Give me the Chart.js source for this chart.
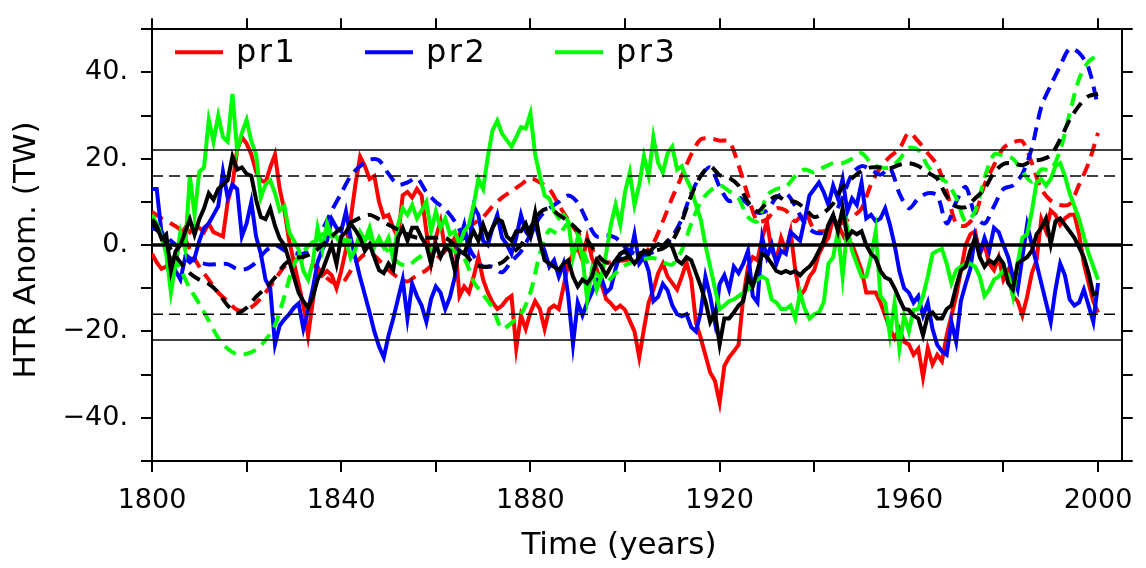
<!DOCTYPE html>
<html>
<head>
<meta charset="utf-8">
<script src="https://cdn.jsdelivr.net/npm/chart.js@4"></script>
<style>
  html, body { margin: 0; padding: 0; background: #fff; }
  canvas { display: block; }
</style>
</head>
<body>
<canvas id="htr" width="1146" height="568"></canvas>
<script>
// annual HTR anomalies (TW), one value per year from 1800 to 2000
var pr1 = [-2, -4, -5.5, -5, -3, -4, 2, 4, 3, 4.5,
  4, 3, 5, 3, 2.5, 2, 10, 14, 22, 25,
  23.5, 21, 17, 15, 14.5, 18, 21, 13, 8, 1,
  -4, -9, -14, -21, -13, -5, -7, -6, -7, -10,
  -6, -1, 6, 14, 20.5, 18.3, 15.3, 16, 10, 6.5,
  7, 4, 1.7, 11.5, 12.3, 11, 13, 11.5, 3.2, -4.3,
  1.7, 5.5, -1.3, 0, 1.7, -11.8, -9.6, -11, -7.3, -2.8,
  -8, -11, -13.3, -14.8, -14, -12.6, -11.8, -23.9, -16.3, -19.4,
  -15.6, -13, -14.8, -19.4, -14.8, -14, -14.8, -9.6, -4.3, -2,
  -0.5, -3.5, 1.7, -3, -5.5, -9, -12.5, -13.5, -14.8, -14,
  -15, -17.5, -20, -26, -19.4, -13.3, -10.3, -6.5, -4.3, -7.3,
  -8.8, -10.3, -7.3, -4, -8, -18, -21.5, -25.5, -29.5, -31.4,
  -36.5, -28, -26, -24.6, -23.1, -12, -5, -2.8, -3.5, 1.7,
  5.5, -1.3, -3.5, 1.7, -1.3, 3.2, -5.8, -11.8, -10.3, -7.3,
  -5.8, -2, 0.2, 1.7, 6.2, 5, 2.5, 0.5, 0.2, -2.8,
  -5.8, -11, -11, -11, -13.3, -16.3, -19.4, -21.6, -19.4, -22.4,
  -23, -25.4, -24, -30.6, -23.9, -27.6, -25.4, -26.9, -20.9, -16.3,
  -11.8, -6, 0, 2.5, 3.2, -2, 0.2, -4.3, -5.8, -2.8,
  -8, -5.8, -11.8, -13, -16.3, -12, -6.5, -3.5, 6, 3.2,
  8, 7, 4.7, 6.2, 7, 7, 2.5, -4.3, -8.8, -13,
  -15.6];

var pr2 = [13, 13, 3, -1, -4, -6, -8, -3, -4, -3,
  1, 4, 5, 7, 9, 17, 11, 14, 13, 2,
  5, 10, 2, -2, -8, -10, -23, -18.6, -17.2, -16,
  -14.5, -13.5, -19.4, -15, -10, -4, -1, 1, 6, 4,
  3.2, 7.8, 1.7, -3, -7.5, -11.5, -15.6, -20, -23.5, -26,
  -21, -17, -12.5, -8, -17, -9, -11.8, -14, -17.8, -12.5,
  -9.6, -11, -14.8, -12, -7.5, 1, 4.7, -1.3, 9, 7,
  1, 0, 4, 7, 1.7, 0.2, -2, 1.7, 7, 3.2,
  1.7, 5, 1, -1.3, -5, -3.5, -7.3, -4.3, -11.8, -23,
  -13.3, -16.3, -13.3, -11, -8, -7.5, -11, -10, -5.5, -2,
  -1.5, -2.8, 2.5, -4.3, -2.8, -6, -13, -12, -9, -10.5,
  -14, -16, -16.5, -16, -19, -20, -15.6, -7.3, -11.8, -17.8,
  -9, -7, -10.3, -5, -6.5, -4.3, -1.3, -11.8, -13.3, 1.7,
  -2.8, 0.2, -4.3, -1.3, -2, 3, 2, 1, 6, 11.5,
  13, 14.5, 12.3, 9.3, 13.8, 10.8, 15.3, 7.8, 10.8, 9.3,
  14.5, 6.2, 7, 5.5, 6.2, 8.5, 4.7, 0, -6, -10,
  -11, -13.3, -11.8, -16.3, -13.3, -19.4, -23.1, -24.6, -25.4, -17.8,
  -22.4, -13, -9, -5.5, 2, -2, 1.7, -1.3, 4, 3,
  0, -2.8, -7.3, -10.3, -2.8, 4.7, 0.2, -4.3, -8.8, -13.3,
  -17.8, -10.3, -4.3, -7, -12.6, -14, -13.3, -10.3, -14, -17.8,
  -8.8];

var pr3 = [7, 5, 2, -2, -11, -4, 3, -1, 16, 7,
  17, 18, 29, 24, 30, 25, 24, 35, 22, 26,
  29, 24, 21, 11, 14, 15, 12, 8, 9, 3,
  1, -1, -6, -8, -4, 4, -1, 5, 2, 2,
  0, 1, -3, -1, 3, 1, 4, -0.5, 1.7, -0.5,
  1.7, -3.5, 4.7, 8.5, 7, 9.3, 6.2, 8, 10, 3.2,
  7.8, 4, 6.2, 2.5, 3.2, 0.2, 3.2, 4.7, 9.3, 15.3,
  13, 20.5, 26.6, 28.8, 25.8, 24.3, 22.8, 25, 27.3, 27,
  30.5, 21, 16, 11.5, 10.8, 7.8, 6.2, 7, 5.5, -2.8,
  1.7, -2.8, -12.6, -5.8, -10.3, -7.3, -2, 4.7, 9.3, 4.7,
  12.3, 16.8, 9.3, 14, 20.6, 16, 25, 19, 16.8, 21.3,
  22.8, 17.5, 18.3, 15.3, 13, 9.3, 6, 0, -5, -10,
  -14.8, -14, -13, -12.6, -11.8, -11, -10.3, -8.8, -8, -7.3,
  -8, -12.6, -13.3, -14.8, -14.8, -14, -17, -11, -14.8, -17,
  -16, -15.6, -13.3, -4.3, -2.8, 3.2, -7.3, 4, -1.3, -4.3,
  -7.3, -7.3, -2.8, 3.2, -11.8, -13.3, -20.9, -13.3, -23.9, -16.3,
  -20, -15, -14.8, -11.8, -7.3, -2, -1.3, -0.9, -4.3, -8.8,
  -5.8, -5, -4.3, -4.3, -5, -7.3, -11.8, -10.3, -8, -7.3,
  -5.8, -7, -11.8, -4.3, 1.7, 2.5, 7.8, 14.5, 15.3, 13.8,
  15.3, 18.3, 19, 16, 12, 9, 6, 2, -2, -5,
  -8];

var prMean = [6, 4.5, 1.5, 2.5, -6, -1.4, 0, 3, 6, 2.4,
  6, 8.5, 12, 10.5, 13, 14, 15, 20.5, 17.5, 18,
  16.5, 16, 10.5, 6.5, 6, 8.5, 4.5, 1.5, 0, -3.6,
  -7.4, -11, -13, -14.5, -12, -8, -6, -3, 0, -4.4,
  2, 3, 5, 3.5, 1.7, -1.3, 0.2, -2.8, -5.8, -6.5,
  -4.3, -5.8, 1.7, 4, 1, 4, 4, 1.7, 0, -4.3,
  0.2, -2.8, -0.5, -1.3, -5.8, -1.3, -2, 1, 3.2, 1,
  4.7, 1.7, 4, 6, 5.5, 2, 1, 3.2, 3.2, 5,
  2, 7.5, 1, -3.5, -4.3, -5, -5.8, -4.3, -3.5, -7.3,
  -9.6, -8, -8.8, -7.3, -3.5, -5, -7, -5, -3.5, -2,
  -1.3, -2.8, -4.3, -2.8, -1.3, -2, -0.5, 0.2, -0.2, 1,
  -0.5, -3.5, -4.3, -2.8, -3.5, -6.5, -9.5, -13, -17.8, -15.5,
  -23, -17, -17, -15.6, -14, -13, -7.3, -9.6, -5.8, -2,
  -2.8, -4.3, -6, -6.5, -6, -6.5, -6, -7, -5.8, -5,
  -3.5, -1.3, 1, 4.7, 7, 3.2, 8.5, 1.7, 3.2, 2.5,
  3.2, 0, -2, -3, -6, -7.5, -8, -10, -12.5, -14.8,
  -15, -16.3, -17, -20.9, -16.3, -15.6, -17, -17, -14.8, -14,
  -9.6, -5.8, -5, -1.3, 1.7, -2.8, -5, -3.5, -4.3, -2.8,
  -4.3, -8.8, -10.3, -4.3, -3.5, -2.8, -1.3, 2.5, 4, 6.2,
  0.2, 5.5, 6.2, 4.7, 3.2, 1.7, -0.5, -2.8, -6.5, -11.4,
  -11];

// low-pass filtered curves, read every second year from 1800 to 2000
var pr1Smooth = [7.7, 6.2, 5, 3.5, -1, -5, -8, -11, -13, -15,
  -15, -13.5, -11, -8, -5, -3.5, -3, -4.5, -6.5, -8.5,
  -9, -6, -3, -1.7, -3.5, -5.8, -7.5, -8.4, -7, -5.8,
  -3.5, -1, 1.5, 3.5, 5, 6.5, 9, 11, 12.5, 14,
  15.5, 14.5, 13, 9.3, 5.8, 2.8, 0.5, -2.3, -4, -3.7,
  -3.5, -3, -2, 0.5, 5.5, 11, 16, 21, 24.5, 24.7,
  24.2, 24, 18.5, 11.5, 5.5, 6, 8.5, 8, 5.5, 7.8,
  3.5, 3.2, 3.8, 5.2, 6.5, 8.5, 14, 18, 20.5, 22.3,
  26, 24, 21.3, 18.5, 12.5, 5, 4.5, 7, 14, 18.5,
  22.5, 23.8, 24, 19, 13, 10.3, 9.3, 9.5, 14, 19,
  26];

var pr2Smooth = [4, 3, 1, -1, -3, -4, -4.5, -4.4, -4.4, -5.5,
  -5.5, -4, -1.4, 0, -1.2, -1.8, -2, 0, 3.5, 8,
  12, 16, 18.3, 19.8, 19.6, 16.5, 14, 14.5, 15.5, 12.3,
  10, 8.3, 5.5, 1.5, -2.5, -5, -5, -6.3, -3.7, -1.5,
  2.5, 6.5, 8.5, 10, 11.5, 9.8, 5.5, 2, 2.3, 1.7,
  -0.5, -2, -2.7, -1.5, -0.5, 2, 6, 12, 16, 18,
  13.5, 10.2, 11, 9.5, 7.5, 8, 11, 12, 9, 5,
  3, 3, 6.5, 11, 16.5, 18.3, 17.5, 16.3, 17.8, 12,
  8.5, 10.8, 12, 11.5, 5, 10, 13.5, 7, 5, 9,
  13, 13.8, 16.5, 22.5, 32, 37, 41.5, 45.5, 44.5, 41,
  32];

var pr3Smooth = [6, 3, -1, -5.5, -10, -13.6, -17.5, -21.5, -24, -25.3,
  -25.2, -24.2, -22, -18.5, -11.8, -4.5, -1.5, 0.7, 2.5, 2.5,
  1.5, 1, 1, 1.7, 0.5, -1.5, -4, -4.8, -3.2, -1.8,
  -0.5, 0, -1.5, -3, -8.5, -11.5, -14.5, -19.4, -18, -16,
  -11, -2, 3.5, 2.5, 5, 2.5, -3.8, -6.7, -8.5, -6.5,
  -4.7, -3.8, -3.2, -3, -4, -4.5, -1.2, 5, 10, 12.6,
  13.8, 12.5, 10.8, 6.5, 5.5, 11.5, 13, 13.5, 16, 17.5,
  16.8, 18, 19, 19, 20, 21.3, 19, 18, 18, 19.8,
  22.5, 22, 18.3, 16, 14.5, 11, 5.5, 7.8, 15.5, 21,
  20.7, 20, 17, 14.7, 17.5, 17.5, 22, 30.5, 38.5, 42.5,
  44];

var meanSmooth = [5.4, 2, -1, -4, -6.5, -8, -9, -11, -14, -15.7,
  -14.5, -12, -10, -7.5, -4.5, -3, -2.7, -1.8, 0, 2,
  4, 5.2, 6.3, 7, 6, 4.7, 3.6, 2.5, 1.7, 1.7,
  1.7, 1.7, 0, -1.8, -4.3, -5, -4.8, -4, -2, 0,
  4, 7.5, 8.5, 7, 5.5, 3.5, 1.2, -2, -4, -3.7,
  -3, -2.4, -1.6, -1.3, -0.8, 1, 5.5, 11.5, 16, 18.2,
  16.2, 15.6, 13.8, 10, 7.8, 9.8, 11.3, 10.3, 10, 8.5,
  6.5, 7.5, 9.6, 13.5, 15.5, 17.2, 18, 18, 17.8, 18.6,
  19, 18.3, 16.8, 15.4, 11.3, 9, 8.8, 10.8, 13, 16.8,
  18.8, 19, 18.5, 19.5, 19.8, 20.8, 24.5, 29, 32.3, 34.5,
  35];

var firstYear = 1800;
var xMin = 1800, xMax = 2005;
var solidLevels = [22, -22];
var dashedLevels = [16, -16];
var zeroLevel = 0;
var legendNames = ['pr1', 'pr2', 'pr3'];
var legendColors = ['#ff0000', '#0000ff', '#00ff00'];

var years = pr1.map(function (v, i) { return firstYear + i; });
var smoothYears = pr1Smooth.map(function (v, i) { return firstYear + 2 * i; });

function points(xs, ys) {
  return ys.map(function (y, i) { return { x: xs[i], y: y }; });
}

function level(y, width, dash) {
  return {
    data: [{ x: xMin, y: y }, { x: xMax, y: y }],
    borderColor: '#000',
    borderWidth: width,
    borderDash: dash || []
  };
}

function series(xs, ys, color, dashed) {
  return {
    data: points(xs, ys),
    borderColor: color,
    borderWidth: 4,
    borderDash: dashed ? [13, 8] : [],
    tension: dashed ? 0.3 : 0
  };
}

// earlier datasets are drawn on top
var datasets = [
  level(zeroLevel, 3.5),
  level(solidLevels[0], 1.5), level(solidLevels[1], 1.5),
  level(dashedLevels[0], 1.5, [11, 6]), level(dashedLevels[1], 1.5, [11, 6]),
  series(years, prMean, '#000000', false),
  series(smoothYears, meanSmooth, '#000000', true),
  series(years, pr3, legendColors[2], false),
  series(smoothYears, pr3Smooth, legendColors[2], true),
  series(years, pr2, legendColors[1], false),
  series(smoothYears, pr2Smooth, legendColors[1], true),
  series(years, pr1, legendColors[0], false),
  series(smoothYears, pr1Smooth, legendColors[0], true)
];

function yLabel(v) {
  if (v % 20 !== 0) return '';
  if (v === 0) return '0.';
  return (v < 0 ? '\u2212' + Math.abs(v) : String(v)) + '.';
}

var frame = { display: true, color: '#000', width: 2 };
var tickGrid = { drawOnChartArea: false, drawTicks: true, tickLength: 11, color: '#000', lineWidth: 2 };

var textPlugin = {
  id: 'htrText',
  afterDraw: function (chart) {
    var ctx = chart.ctx;
    var area = chart.chartArea;
    ctx.save();
    ctx.fillStyle = '#000';
    ctx.textBaseline = 'alphabetic';

    // legend inside the plot
    ctx.font = '32px "DejaVu Sans"';
    ctx.textAlign = 'left';
    legendNames.forEach(function (name, i) {
      var x0 = area.left + 23 + i * 190;
      ctx.strokeStyle = legendColors[i];
      ctx.lineWidth = 4;
      ctx.setLineDash([]);
      ctx.beginPath();
      ctx.moveTo(x0, area.top + 23);
      ctx.lineTo(x0 + 48, area.top + 23);
      ctx.stroke();
      ctx.letterSpacing = '2.5px';
      ctx.fillText(name, x0 + 61, area.top + 33);
      ctx.letterSpacing = '0px';
    });

    // axis titles
    ctx.font = '31px "DejaVu Sans"';
    ctx.textAlign = 'center';
    ctx.fillText('Time (years)', 619, 554);
    ctx.translate(35, 250);
    ctx.rotate(-Math.PI / 2);
    ctx.fillText('HTR Anom. (TW)', 0, 0);
    ctx.restore();
  }
};

Chart.defaults.font.family = 'DejaVu Sans';
Chart.defaults.font.size = 27;
Chart.defaults.color = '#000';

new Chart(document.getElementById('htr'), {
  type: 'line',
  data: { datasets: datasets },
  options: {
    responsive: false,
    animation: false,
    devicePixelRatio: 1,
    layout: { padding: 0 },
    elements: { point: { radius: 0 } },
    plugins: { legend: { display: false }, tooltip: { enabled: false } },
    scales: {
      x: {
        type: 'linear', position: 'bottom', min: xMin, max: xMax,
        ticks: {
          stepSize: 20, includeBounds: false, autoSkip: false, maxRotation: 0, padding: 13,
          callback: function (v) { return (v - firstYear) % 40 === 0 ? String(v) : ''; }
        },
        grid: tickGrid, border: frame,
        afterFit: function (s) { s.height = 107; }
      },
      xTop: {
        type: 'linear', position: 'top', min: xMin, max: xMax,
        ticks: { display: false, stepSize: 20, includeBounds: false },
        grid: tickGrid, border: frame,
        afterFit: function (s) { s.height = 20; }
      },
      y: {
        type: 'linear', position: 'left', min: -50, max: 50,
        ticks: { stepSize: 10, padding: 13, autoSkip: false, callback: yLabel },
        grid: tickGrid, border: frame,
        afterFit: function (s) { s.width = 152; }
      },
      yRight: {
        type: 'linear', position: 'right', min: -50, max: 50,
        ticks: { display: false, stepSize: 10 },
        grid: tickGrid, border: frame,
        afterFit: function (s) { s.width = 23; }
      }
    }
  },
  plugins: [textPlugin]
});
</script>
</body>
</html>
